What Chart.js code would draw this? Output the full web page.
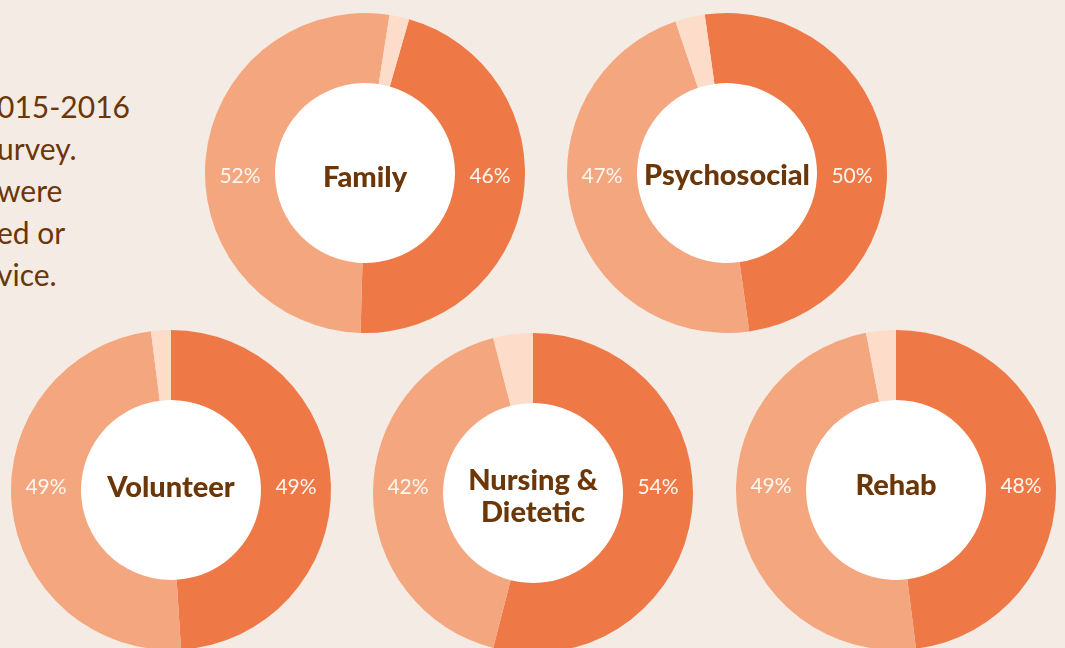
<!DOCTYPE html>
<html>
<head>
<meta charset="utf-8">
<script src="https://cdn.jsdelivr.net/npm/chart.js@4.4.1/dist/chart.umd.min.js"></script>
<style>
  html, body { margin:0; padding:0; width:1065px; height:648px; overflow:hidden; background:#F3EBE4; }
  .c { position:absolute; }
  #intro { position:absolute; left:-3px; top:85px; font-family:Lato, "Open Sans", sans-serif; font-size:30px; line-height:42px; color:#6B3608; white-space:nowrap; }
</style>
</head>
<body>
<div id="intro">
  <div>015-2016</div>
  <div>urvey.</div>
  <div>were</div>
  <div>ed or</div>
  <div>vice.</div>
</div>
<script>
// ---- data ----
const categories = ['Family', 'Psychosocial', 'Volunteer', 'Nursing & Dietetic', 'Rehab'];
const centerLabels = [['Family'], ['Psychosocial'], ['Volunteer'], ['Nursing &', 'Dietetic'], ['Rehab']];
const primaryValues = [46, 50, 49, 54, 48];    // dark orange slice (right label)
const secondaryValues = [52, 47, 49, 42, 49];  // salmon slice (left label)
const otherValues = [2, 3, 2, 4, 3];           // pale slice (unlabelled)

// ---- layout / style ----
const centers = [[365, 173], [727, 173], [171, 490], [533, 493], [896, 490]];
const rotations = [16, -8, 0, 0, 0];
const titleDy = [14, 12, 7, 13, 5];
const pctDy = [10, 10, 4, 1, 3];
const colors = ['#EF7946', '#F4A77F', '#FDDCCA'];
const HALF = 165;

const ringPlugin = {
  id: 'ring',
  beforeDatasetsDraw(chart) {
    const arc = chart.getDatasetMeta(0).data[0];
    const ctx = chart.ctx;
    ctx.save();
    ctx.beginPath();
    ctx.arc(arc.x, arc.y, arc.innerRadius, 0, Math.PI * 2);
    ctx.fillStyle = '#FFFFFF';
    ctx.fill();
    ctx.restore();
  },
  afterDatasetsDraw(chart, args, opts) {
    const arc = chart.getDatasetMeta(0).data[0];
    const ctx = chart.ctx;
    const x = arc.x, y = arc.y;
    const mid = (arc.innerRadius + arc.outerRadius) / 2;
    const vals = chart.data.datasets[0].data;
    ctx.save();
    ctx.textAlign = 'center';
    ctx.textBaseline = 'alphabetic';
    ctx.font = '21px Lato, "Open Sans", sans-serif';
    ctx.fillStyle = '#FFF6F0';
    ctx.fillText(vals[0] + '%', x + mid, y + opts.pctDy);
    ctx.fillText(vals[1] + '%', x - mid, y + opts.pctDy);
    ctx.font = '900 29px Lato, "Open Sans", sans-serif';
    ctx.fillStyle = '#6B3608';
    const lines = opts.lines;
    const n = lines.length;
    lines.forEach((l, i) => {
      ctx.fillText(l, x, y + opts.titleDy + (i - (n - 1) / 2) * 32);
    });
    ctx.restore();
  }
};

categories.forEach((cat, i) => {
  const canvas = document.createElement('canvas');
  canvas.className = 'c';
  canvas.width = HALF * 2;
  canvas.height = HALF * 2;
  canvas.style.width = (HALF * 2) + 'px';
  canvas.style.height = (HALF * 2) + 'px';
  canvas.style.left = (centers[i][0] - HALF) + 'px';
  canvas.style.top = (centers[i][1] - HALF) + 'px';
  document.body.appendChild(canvas);
  new Chart(canvas, {
    type: 'doughnut',
    data: {
      labels: [cat + ' A', cat + ' B', cat + ' C'],
      datasets: [{
        data: [primaryValues[i], secondaryValues[i], otherValues[i]],
        backgroundColor: colors,
        borderWidth: 0,
        hoverOffset: 0
      }]
    },
    options: {
      responsive: false,
      devicePixelRatio: 1,
      animation: false,
      events: [],
      rotation: rotations[i],
      cutout: '56.25%',
      layout: { padding: 5 },
      plugins: {
        legend: { display: false },
        tooltip: { enabled: false },
        ring: { lines: centerLabels[i], titleDy: titleDy[i], pctDy: pctDy[i] }
      }
    },
    plugins: [ringPlugin]
  });
});
</script>
</body>
</html>
